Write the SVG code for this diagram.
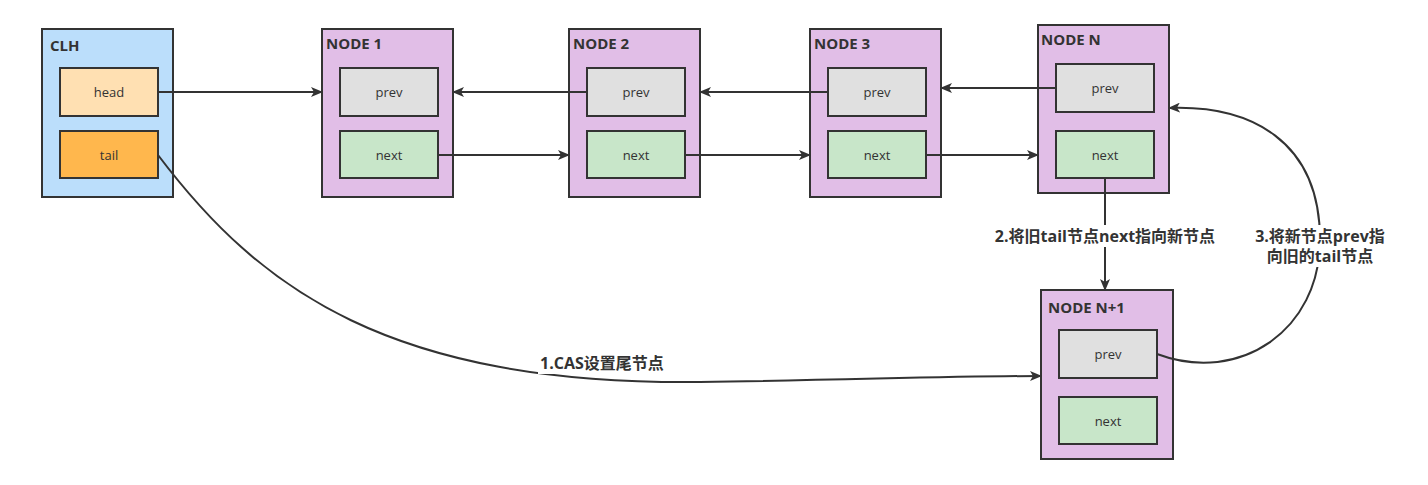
<svg xmlns="http://www.w3.org/2000/svg" width="1428" height="485" viewBox="0 0 1428 485">
<style>
.box{stroke:#333;stroke-width:2}
.title{font-family:"Open Sans","Noto Sans CJK SC",sans-serif;font-weight:bold;font-size:15px;fill:#333}
.lbl{font-family:"Open Sans","Noto Sans CJK SC",sans-serif;font-size:13px;fill:#333;text-anchor:middle}
.elbl{font-family:"Open Sans","Noto Sans CJK SC",sans-serif;font-weight:bold;font-size:16px;fill:#333;text-anchor:middle}
.edge{fill:none;stroke:#333;stroke-width:2;marker-end:url(#arr)}
.outer{fill:#e1bee7}
.prev{fill:#e0e0e0}
.next{fill:#c8e6c9}
</style>
<defs>
<marker id="arr" viewBox="0 0 12 10" refX="11" refY="5" markerWidth="12" markerHeight="10" markerUnits="userSpaceOnUse" orient="auto">
<path d="M0,0 L12,5 L0,10 L3,5 Z" fill="#333"/>
</marker>
</defs>
<rect width="1428" height="485" fill="#fff"/>
<g id="clh">
<rect class="box" x="42" y="29" width="131" height="168" fill="#bbdefb"/>
<text class="title" x="50" y="51">CLH</text>
<rect class="box" x="60" y="68" width="98" height="48" fill="#ffe0b2"/>
<text class="lbl" x="109" y="97">head</text>
<rect class="box" x="60" y="131" width="98" height="47" fill="#ffb74d"/>
<text class="lbl" x="109" y="160">tail</text>
</g>
<g id="node1">
<rect class="box outer" x="322" y="29" width="131" height="168"/>
<text class="title" x="326" y="49">NODE 1</text>
<rect class="box prev" x="340" y="68" width="98" height="48"/>
<text class="lbl" x="389" y="97">prev</text>
<rect class="box next" x="340" y="131" width="98" height="47"/>
<text class="lbl" x="389" y="160">next</text>
</g>
<g id="node2">
<rect class="box outer" x="569" y="29" width="131" height="168"/>
<text class="title" x="573" y="49">NODE 2</text>
<rect class="box prev" x="587" y="68" width="98" height="48"/>
<text class="lbl" x="636" y="97">prev</text>
<rect class="box next" x="587" y="131" width="98" height="47"/>
<text class="lbl" x="636" y="160">next</text>
</g>
<g id="node3">
<rect class="box outer" x="810" y="29" width="131" height="168"/>
<text class="title" x="814" y="49">NODE 3</text>
<rect class="box prev" x="828" y="68" width="98" height="48"/>
<text class="lbl" x="877" y="97">prev</text>
<rect class="box next" x="828" y="131" width="98" height="47"/>
<text class="lbl" x="877" y="160">next</text>
</g>
<g id="nodeN">
<rect class="box outer" x="1038" y="25" width="131" height="168"/>
<text class="title" x="1041" y="45">NODE N</text>
<rect class="box prev" x="1056" y="64" width="98" height="48"/>
<text class="lbl" x="1105" y="93">prev</text>
<rect class="box next" x="1056" y="131" width="98" height="47"/>
<text class="lbl" x="1105" y="160">next</text>
</g>
<g id="nodeN1">
<rect class="box outer" x="1041" y="290" width="132" height="169"/>
<text class="title" x="1048" y="313">NODE N+1</text>
<rect class="box prev" x="1059" y="330" width="98" height="48"/>
<text class="lbl" x="1108" y="359">prev</text>
<rect class="box next" x="1059" y="397" width="98" height="47"/>
<text class="lbl" x="1108" y="426">next</text>
</g>
<g id="connectors">
<path class="edge" d="M158,92 L322,92"/>
<path class="edge" d="M587,92 L453,92"/>
<path class="edge" d="M828,92 L700,92"/>
<path class="edge" d="M1056,88 L941,88"/>
<path class="edge" d="M438,155 L569,155"/>
<path class="edge" d="M685,155 L810,155"/>
<path class="edge" d="M926,155 L1038,155"/>
<path class="edge" d="M1105,178 L1105,290"/>
<path class="edge" d="M158,155 C260,290 390,385 700,382 C850,380 950,376 1041,376"/>
<path class="edge" d="M1157,354 C1240,385 1320,330 1320,240 C1320,140 1250,105 1169,108"/>
<rect x="994" y="225" width="222" height="22" fill="#fff"/>
<text class="elbl" x="1105" y="242">2.将旧tail节点next指向新节点</text>
<rect x="1254" y="225" width="132" height="42" fill="#fff"/>
<text class="elbl" x="1320" y="242">3.将新节点prev指</text>
<text class="elbl" x="1320" y="262">向旧的tail节点</text>
<rect x="538" y="352" width="130" height="22" fill="#fff"/>
<text class="elbl" x="602" y="369">1.CAS设置尾节点</text>
</g>
</svg>
